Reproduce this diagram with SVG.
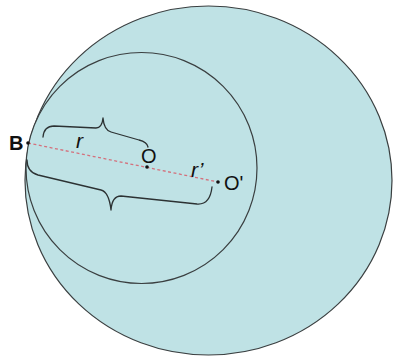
<svg xmlns="http://www.w3.org/2000/svg" width="393" height="356" viewBox="0 0 393 356">
<style>
.c{fill:#bfe2e5;stroke:#3a3f40;stroke-width:1.2}
.br{fill:none;stroke:#2c3233;stroke-width:1.3;stroke-linejoin:round;stroke-linecap:round}
.lbl{font-family:"Liberation Sans",Arial,sans-serif;fill:#111;font-size:20px}
.it{font-family:"Liberation Sans",Arial,sans-serif;fill:#111;font-size:21px;font-style:italic}
.dot{fill:#111}
</style>
<rect width="393" height="356" fill="#ffffff"/>
<g id="outer"><ellipse class="c" cx="208.5" cy="180.5" rx="183.5" ry="174.5"/></g>
<g id="inner"><circle class="c" cx="141.5" cy="168" r="115.5"/></g>
<g id="connectors">
<line x1="28" y1="143" x2="218" y2="182" stroke="#d4707c" stroke-width="1.3" stroke-dasharray="3,2.5"/>
<path class="br" d="M43,137 Q44,126 54,126 L96,128 Q102,128 103,118 Q104,130 111,132 L139,140 Q147,142 148,147"/>
<path class="br" d="M27,160 Q27,172 38,175 L101,190 Q109,192 111,210 Q112,196 121,196 L197,204 Q210,205 212,187"/>
</g>
<g id="B"><circle class="dot" cx="28" cy="143" r="1.8"/><text class="lbl" x="9" y="150" font-weight="bold">B</text></g>
<g id="O"><circle class="dot" cx="147" cy="167" r="1.8"/><text class="lbl" x="141" y="163">O</text></g>
<g id="Oprime"><circle class="dot" cx="218" cy="182" r="1.8"/><text class="lbl" x="224" y="190">O'</text></g>
<g id="r"><text class="it" x="76" y="148">r</text></g>
<g id="rprime"><text class="it" x="191" y="177">r’</text></g>
</svg>
